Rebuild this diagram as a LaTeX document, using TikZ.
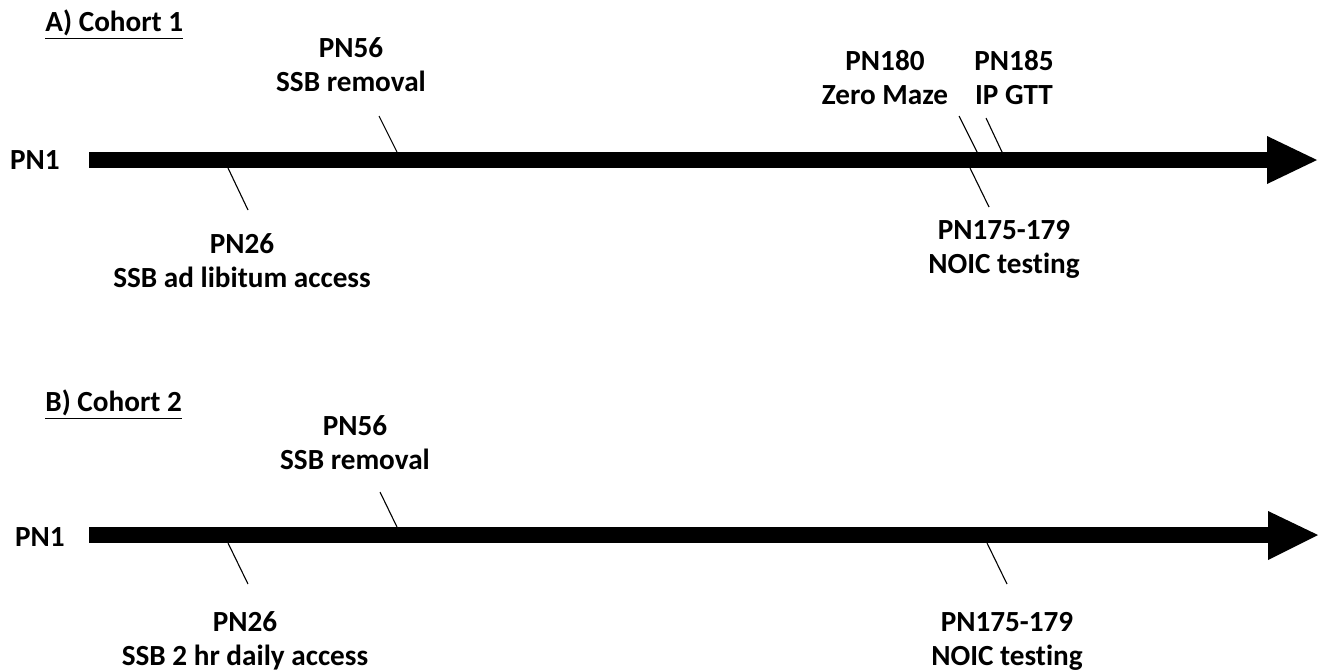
\documentclass[tikz,border=0pt]{standalone}
\usepackage{fontspec}
\setmainfont{Carlito}[Ligatures=NoCommon]
\begin{document}
\begin{tikzpicture}[x=0.5pt,y=-0.5pt,
  lbl/.style={font=\bfseries\fontsize{14.6}{17}\selectfont, align=center, inner sep=0pt},
  ttl/.style={font=\bfseries\fontsize{14.6}{17}\selectfont, inner sep=0pt, anchor=west},
  tick/.style={draw=black, line width=0.55pt},
  bar/.style={fill=black}]
\useasboundingbox (0,0) rectangle (1326,671);

% ---------- Cohort 1 ----------
\node[ttl] (tA) at (45,25) {\underline{A) Cohort 1}};
\node[lbl] (pn1a) at (35,160) {PN1};
\fill[bar] (89,152) rectangle (1268,168);
\fill[bar] (1267,136) -- (1317,160) -- (1267,184) -- cycle;

\node[lbl] (a56) at (351,65) {PN56\\SSB removal};
\coordinate (a56t) at (379,116); \coordinate (a56b) at (397,152);
\draw[tick] (a56t) -- (a56b);

\node[lbl] (a26) at (242,261) {PN26\\SSB ad libitum access};
\coordinate (a26t) at (228,168); \coordinate (a26b) at (248,210);
\draw[tick] (a26t) -- (a26b);

\node[lbl] (a180) at (885,78) {PN180\\Zero Maze};
\coordinate (a180t) at (959,116); \coordinate (a180b) at (977,152);
\draw[tick] (a180t) -- (a180b);

\node[lbl] (a185) at (1014,78) {PN185\\IP GTT};
\coordinate (a185t) at (986,118); \coordinate (a185b) at (1002,152);
\draw[tick] (a185t) -- (a185b);

\node[lbl] (a175) at (1004,249) {PN175-179\\NOIC testing};
\coordinate (a175t) at (970,168); \coordinate (a175b) at (989,207);
\draw[tick] (a175t) -- (a175b);

% ---------- Cohort 2 ----------
\node[ttl] (tB) at (45,405) {\underline{B) Cohort 2}};
\node[lbl] (pn1b) at (40,537) {PN1};
\fill[bar] (89,527) rectangle (1269,543);
\fill[bar] (1268,511) -- (1318,535) -- (1268,560) -- cycle;

\node[lbl] (b56) at (355,443) {PN56\\SSB removal};
\coordinate (b56t) at (380,492); \coordinate (b56b) at (397,527);
\draw[tick] (b56t) -- (b56b);

\node[lbl] (b26) at (245,641) {PN26\\SSB 2 hr daily access};
\coordinate (b26t) at (228,543); \coordinate (b26b) at (248,584);
\draw[tick] (b26t) -- (b26b);

\node[lbl] (b175) at (1007,641) {PN175-179\\NOIC testing};
\coordinate (b175t) at (987,543); \coordinate (b175b) at (1007,584);
\draw[tick] (b175t) -- (b175b);
\end{tikzpicture}
\end{document}
